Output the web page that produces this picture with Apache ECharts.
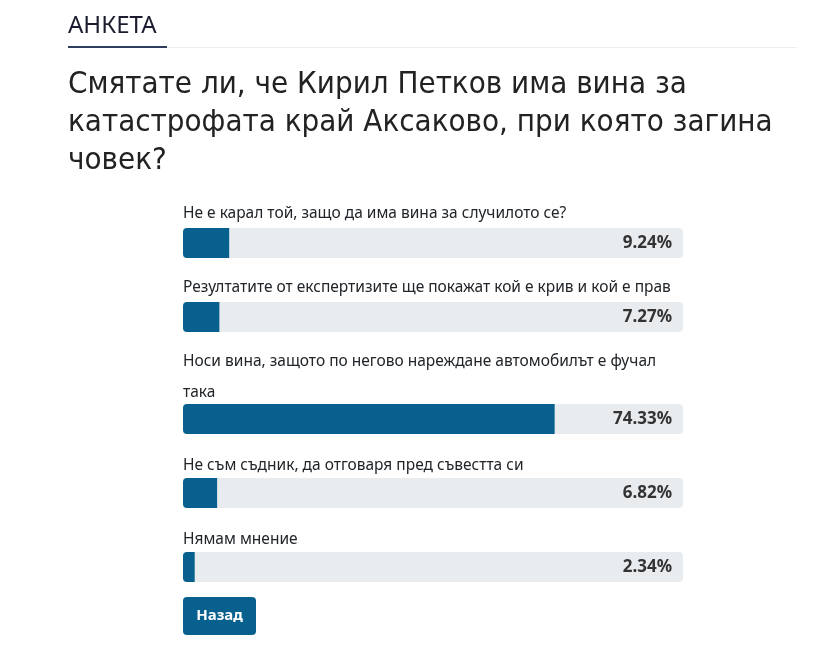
<!DOCTYPE html>
<html>
<head>
<meta charset="utf-8">
<script src="https://cdn.jsdelivr.net/npm/echarts@6/dist/echarts.min.js"></script>
<style>
  html, body { margin: 0; padding: 0; background: #fff; }
  #poll { width: 834px; height: 653px; }
</style>
</head>
<body>
<div id="poll"></div>
<script>
const heading = 'АНКЕТА'
const question = 'Смятате ли, че Кирил Петков има вина за\nкатастрофата край Аксаково, при която загина\nчовек?'
const answers = [
  'Не е карал той, защо да има вина за случилото се?',
  'Резултатите от експертизите ще покажат кой е крив и кой е прав',
  'Носи вина, защото по негово нареждане автомобилът е фучал\nтака',
  'Не съм съдник, да отговаря пред съвестта си',
  'Нямам мнение',
]
const percents = [9.24, 7.27, 74.33, 6.82, 2.34]
const backLabel = 'Назад'

const barTops = [228, 302, 404, 478, 552]
const labelTops = [198, 272, 346, 450, 524]
const blue = '#08608f'
const bodyFont = '"Noto Sans", "Open Sans", sans-serif'

const chart = echarts.init(document.getElementById('poll'))

const grids = []
const xAxes = []
const yAxes = []
const series = []
const labels = []

answers.forEach((ans, i) => {
  grids.push({ left: 183, top: barTops[i], width: 500, height: 30 })
  xAxes.push({ gridIndex: i, type: 'value', min: 0, max: 100, show: false })
  yAxes.push({ gridIndex: i, type: 'category', data: [ans], show: false })
  series.push({
    type: 'bar',
    xAxisIndex: i,
    yAxisIndex: i,
    barWidth: 30,
    data: [percents[i]],
    showBackground: true,
    backgroundStyle: { color: '#e9ecef', borderRadius: 4 },
    itemStyle: { color: blue, borderRadius: [4, 0, 0, 4] },
    silent: true,
    z: 2,
  })
  // full-width transparent bar only carries the percentage text on the right
  series.push({
    type: 'bar',
    xAxisIndex: i,
    yAxisIndex: i,
    barWidth: 30,
    barGap: '-100%',
    data: [100],
    itemStyle: { color: 'rgba(0,0,0,0)' },
    label: {
      show: true,
      position: 'insideRight',
      distance: 11,
      formatter: () => percents[i].toFixed(2) + '%',
      fontFamily: bodyFont,
      fontWeight: 'bold',
      fontSize: 17,
      color: '#333',
    },
    silent: true,
    z: 3,
  })
  labels.push({
    type: 'text',
    left: 183,
    top: labelTops[i],
    z: 10,
    style: {
      text: ans,
      lineHeight: 31,
      font: '15.5px ' + bodyFont,
      fill: '#212529',
    },
  })
})

chart.setOption({
  backgroundColor: '#fff',
  animation: false,
  title: [
    {
      text: heading,
      left: 68,
      top: 14,
      padding: 0,
      textStyle: { fontFamily: bodyFont, fontWeight: 'normal', fontSize: 24, color: '#1b1d2e' },
    },
    {
      text: question,
      left: 68,
      top: 66,
      padding: 0,
      textStyle: {
        fontFamily: '"DejaVu Sans Condensed", Roboto, sans-serif',
        fontWeight: 'normal',
        fontSize: 31,
        lineHeight: 38,
        color: '#222',
      },
    },
  ],
  grid: grids,
  xAxis: xAxes,
  yAxis: yAxes,
  series: series,
  graphic: [
    { type: 'line', shape: { x1: 167, y1: 47.5, x2: 797, y2: 47.5 }, style: { stroke: '#eceef1', lineWidth: 1 } },
    { type: 'line', shape: { x1: 68, y1: 47, x2: 167, y2: 47 }, style: { stroke: '#2c3e5c', lineWidth: 2 } },
    ...labels,
    {
      type: 'group',
      left: 183,
      top: 597,
      children: [
        { type: 'rect', shape: { x: 0, y: 0, width: 73, height: 38, r: 4 }, style: { fill: blue } },
        {
          type: 'text',
          x: 36.5,
          y: 19,
          style: {
            text: backLabel,
            fill: '#fff',
            font: 'bold 15px ' + bodyFont,
            align: 'center',
            verticalAlign: 'middle',
          },
        },
      ],
    },
  ],
})
</script>
</body>
</html>
